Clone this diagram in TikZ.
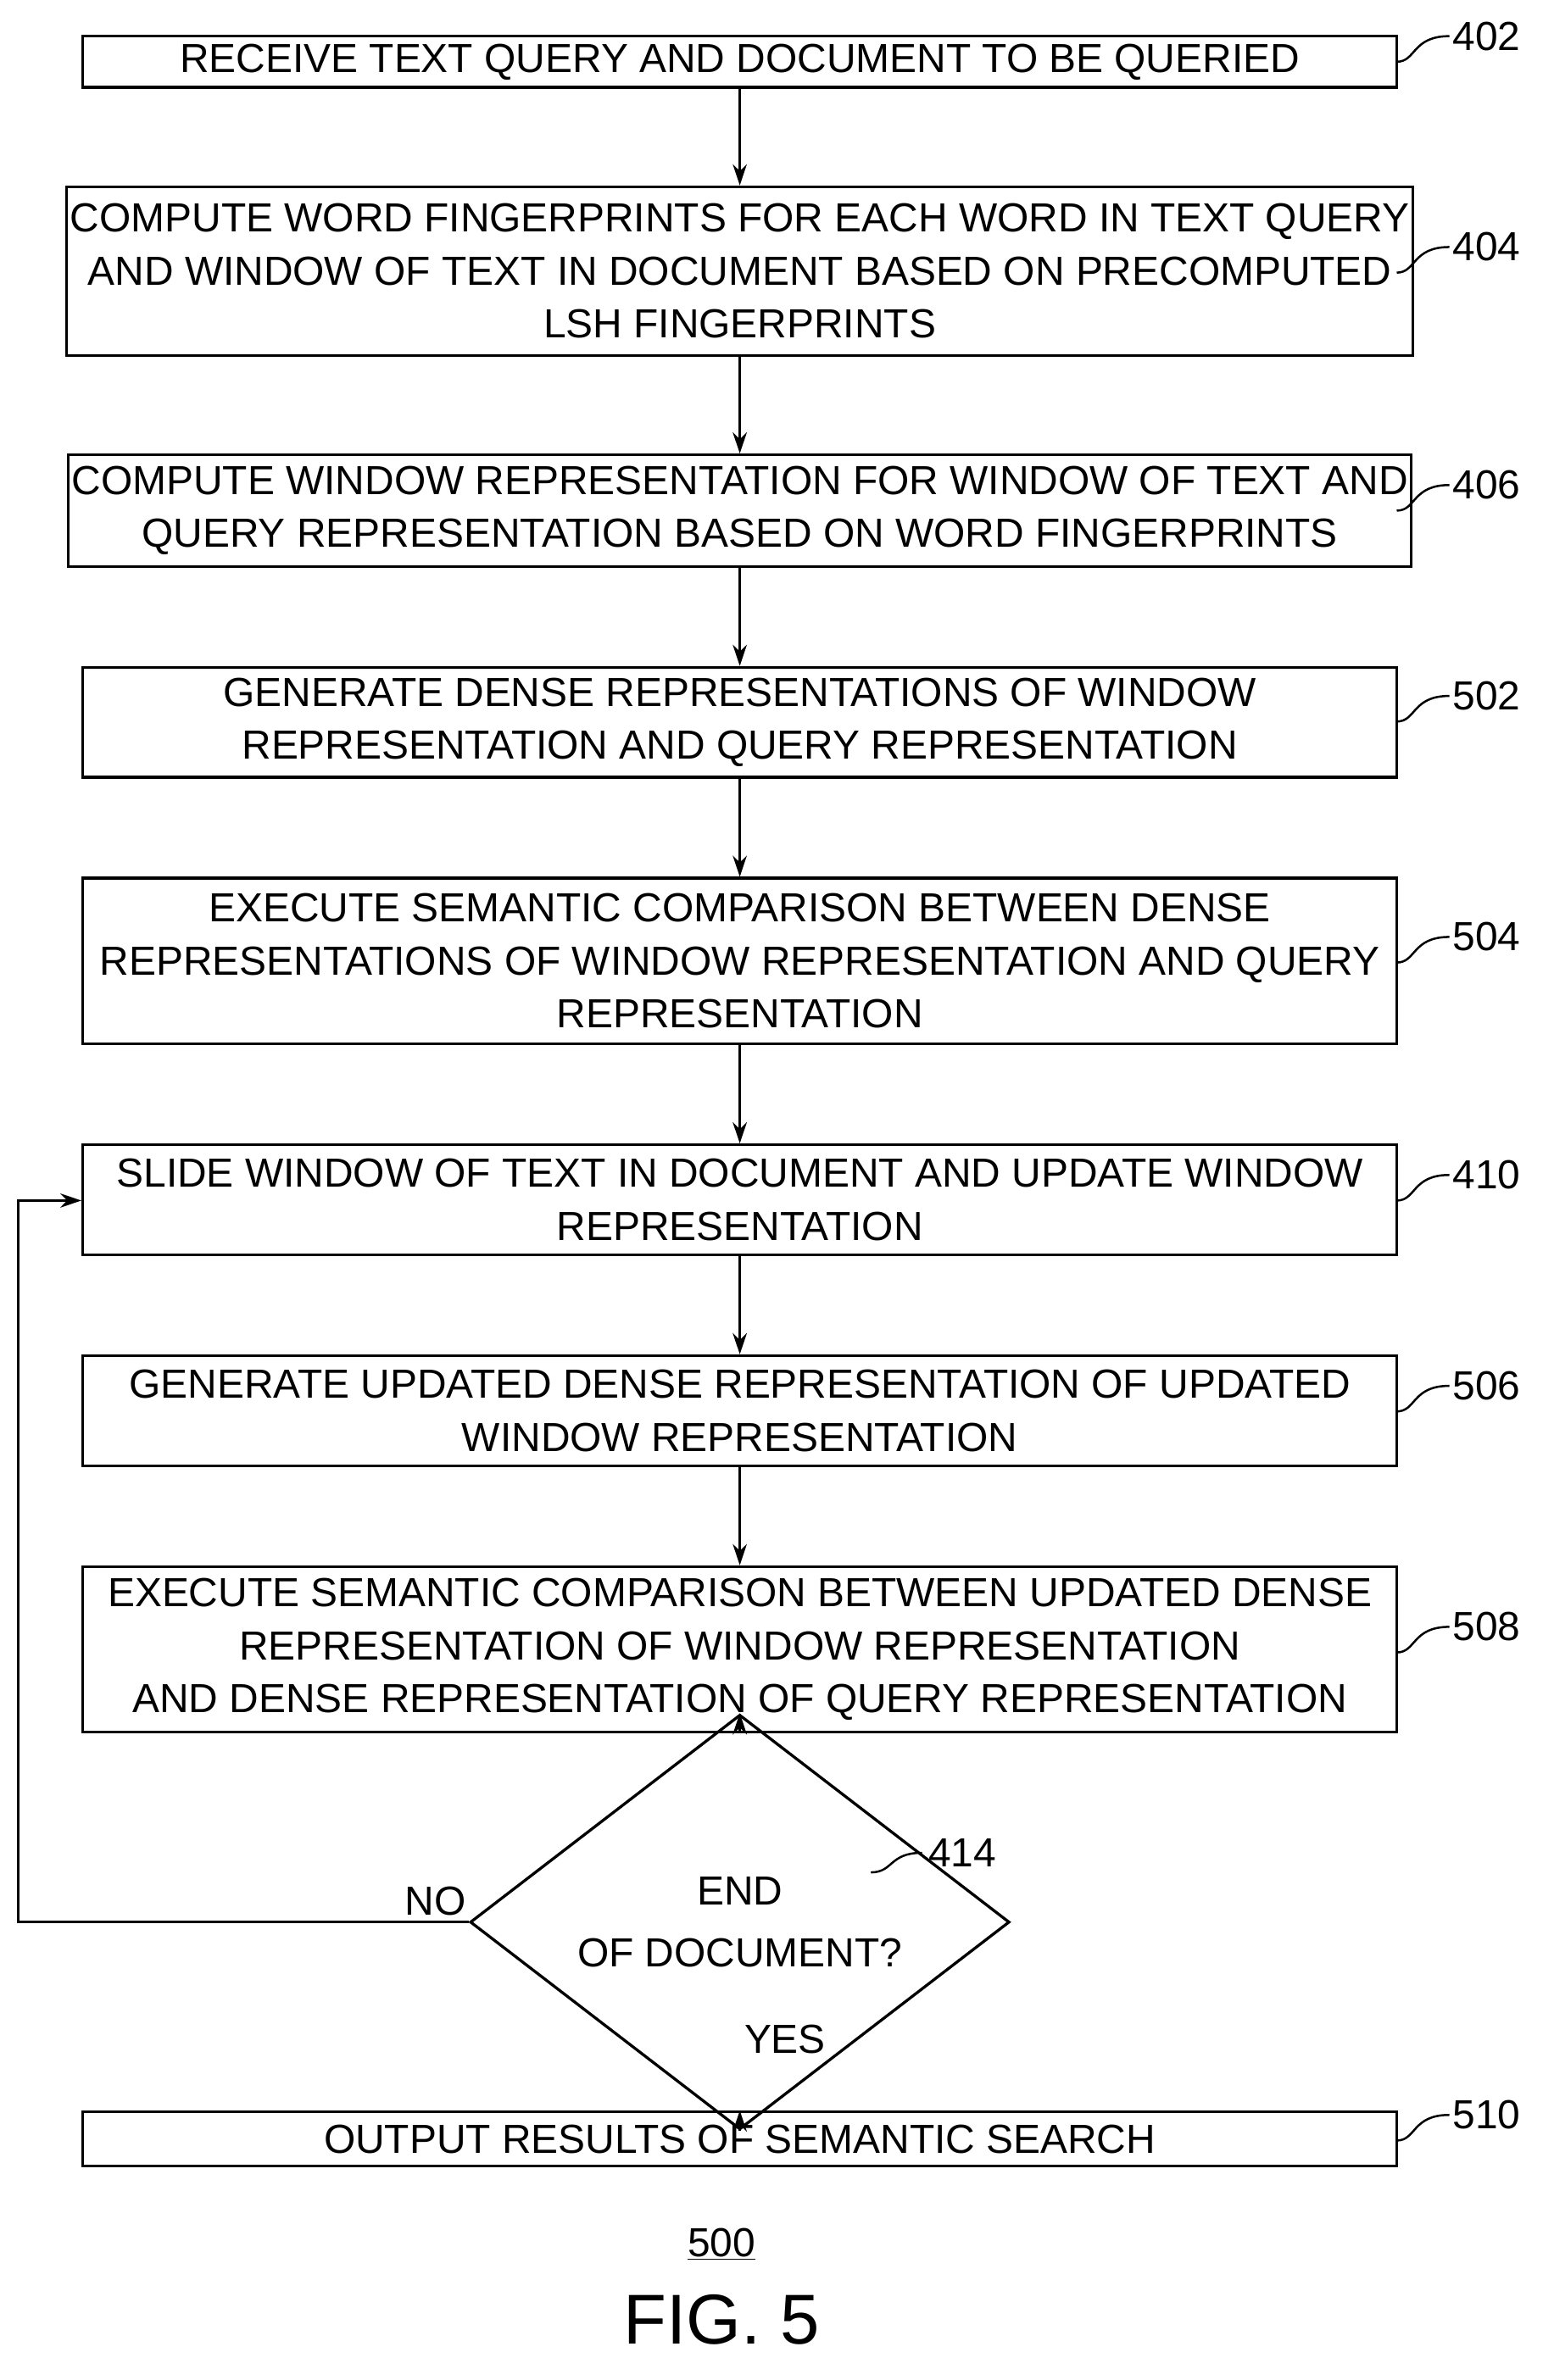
\documentclass[tikz,border=0pt]{standalone}
\usepackage{fontspec}
\setmainfont{Liberation Sans}
\usetikzlibrary{shapes.geometric,arrows.meta}
\begin{document}
\begin{tikzpicture}[x=0.03cm,y=-0.03cm,
  box/.style={draw,line width=1.6pt,minimum width=872*0.03cm,align=center,font=\fontsize{23}{30}\selectfont,inner sep=2pt},
  arr/.style={line width=1.3pt,-{Stealth[length=12pt,width=8pt]}},
  lab/.style={font=\fontsize{23}{28}\selectfont},
  lead/.style={line width=1.2pt}]
\useasboundingbox (0,0) rectangle (1024,1580);
\def\B#1#2#3#4{\node[box,minimum height=(#3-#2)*0.03cm] (#1) at (491,{(#2+#3)/2}) {#4};}
\B{b402}{24}{58}{RECEIVE TEXT QUERY AND DOCUMENT TO BE QUERIED}
\B{b404}{124}{236}{COMPUTE WORD FINGERPRINTS FOR EACH WORD IN TEXT QUERY\\AND WINDOW OF TEXT IN DOCUMENT BASED ON PRECOMPUTED\\LSH FINGERPRINTS}
\B{b406}{302}{376}{COMPUTE WINDOW REPRESENTATION FOR WINDOW OF TEXT AND\\QUERY REPRESENTATION BASED ON WORD FINGERPRINTS}
\B{b502}{443}{516}{GENERATE DENSE REPRESENTATIONS OF WINDOW\\REPRESENTATION AND QUERY REPRESENTATION}
\B{b504}{583}{693}{EXECUTE SEMANTIC COMPARISON BETWEEN DENSE\\REPRESENTATIONS OF WINDOW REPRESENTATION AND QUERY\\REPRESENTATION}
\B{b410}{760}{833}{SLIDE WINDOW OF TEXT IN DOCUMENT AND UPDATE WINDOW\\REPRESENTATION}
\B{b506}{900}{973}{GENERATE UPDATED DENSE REPRESENTATION OF UPDATED\\WINDOW REPRESENTATION}
\B{b508}{1040}{1150}{EXECUTE SEMANTIC COMPARISON BETWEEN UPDATED DENSE\\REPRESENTATION OF WINDOW REPRESENTATION\\AND DENSE REPRESENTATION OF QUERY REPRESENTATION}
\B{b510}{1402}{1438}{OUTPUT RESULTS OF SEMANTIC SEARCH}
\node[diamond,draw,line width=1.6pt,minimum width=358*0.03cm,minimum height=116*0.03cm,inner sep=0pt,align=center,font=\fontsize{23}{35}\selectfont] (d) at (491,1276) {END\\OF DOCUMENT?};
\foreach \a/\b in {b402/b404,b404/b406,b406/b502,b502/b504,b504/b410,b410/b506,b506/b508,b508/d,d/b510}
  \draw[arr] (\a.south) -- (\b.north);
\coordinate (c1) at (12,1276);
\coordinate (c2) at (12,797);
\draw[arr] (d.west) -- (c1) -- (c2) -- (b410.west|-c2);
\node[lab] (no) at (289,1262) {NO};
\node[lab] (yes) at (521,1354) {YES};
\foreach \n/\y/\t in {b402/24/402,b404/164/404,b406/322/406,b502/462/502,b504/622/504,b410/780/410,b506/920/506,b508/1080/508,b510/1404/510}{
  \coordinate (s\t) at (927,\y+17);
  \draw[lead] (s\t) .. controls (940,\y+17) and (937,\y) .. (962,\y);
  \node[lab,anchor=west] (l\t) at (960,\y) {\t};
}
\draw[lead] (578,1243) .. controls (593,1243) and (590,1230) .. (612,1230);
\node[lab,anchor=west] (l414) at (612,1230) {414};
\node[lab] (n500) at (479,1490) {\underline{500}};
\node[font=\fontsize{40}{44}\selectfont] (fig) at (479,1540) {FIG. 5};
\end{tikzpicture}
\end{document}
